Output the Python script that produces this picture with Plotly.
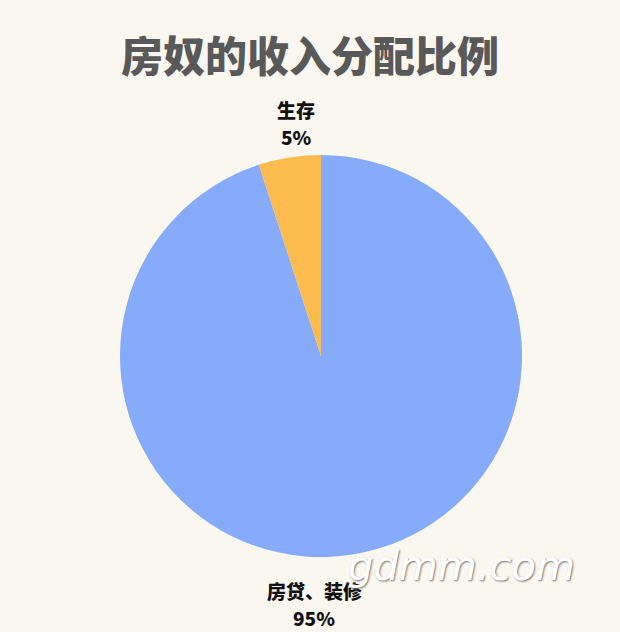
import plotly.graph_objects as go

labels = ["房贷、装修", "生存"]
values = [95, 5]
colors = ["#86ABFB", "#FBBB4F"]
title_text = "房奴的收入分配比例"

W, H = 620, 632
cx, cy, r = 321, 356, 201
BG = "#FAF6F0"

fig = go.Figure(go.Pie(
    labels=labels,
    values=values,
    sort=False,
    direction="clockwise",
    rotation=0,
    marker=dict(colors=colors, line=dict(width=0)),
    textinfo="none",
    hoverinfo="label+percent",
    showlegend=False,
    domain=dict(x=[(cx - r) / W, (cx + r) / W], y=[(H - cy - r) / H, (H - cy + r) / H]),
))

total = sum(values)
# (x centre, name line y, percent line y) in pixels
label_pos = {"生存": (296, 109, 136), "房贷、装修": (314, 590, 617)}
annotations = []
lab_font = dict(family="Noto Sans CJK SC", size=19, color="#111111", weight=900)
for lab, val in zip(labels, values):
    x, y1, y2 = label_pos[lab]
    for txt, yy in ((lab, y1), (f"{round(val / total * 100)}%", y2)):
        annotations.append(dict(
            x=x / W, y=1 - yy / H, xref="paper", yref="paper",
            xanchor="center", yanchor="middle",
            text=txt, showarrow=False, align="center", font=lab_font,
        ))

annotations.append(dict(
    x=310 / W, y=1 - 53 / H, xref="paper", yref="paper",
    xanchor="center", yanchor="middle",
    text=title_text, showarrow=False,
    font=dict(family="Noto Sans CJK SC", size=42, color="#595959", weight=900),
))
annotations.append(dict(
    x=461 / W, y=1 - 566 / H, xref="paper", yref="paper",
    xanchor="center", yanchor="middle",
    text="<i>gdmm.com</i>", showarrow=False,
    font=dict(family="DejaVu Sans", size=40, color="#FFFFFF", weight=300,
              shadow="1px 1px 2px #777777"),
))

fig.update_layout(
    width=W, height=H,
    margin=dict(l=0, r=0, t=0, b=0),
    paper_bgcolor=BG,
    plot_bgcolor=BG,
    annotations=annotations,
)

fig.write_html(
    "out.html",
    config={"displayModeBar": False},
    post_script=(
        "document.body.style.margin='0';"
        "document.body.style.overflow='hidden';"
        f"document.body.style.background='{BG}';"
    ),
)
